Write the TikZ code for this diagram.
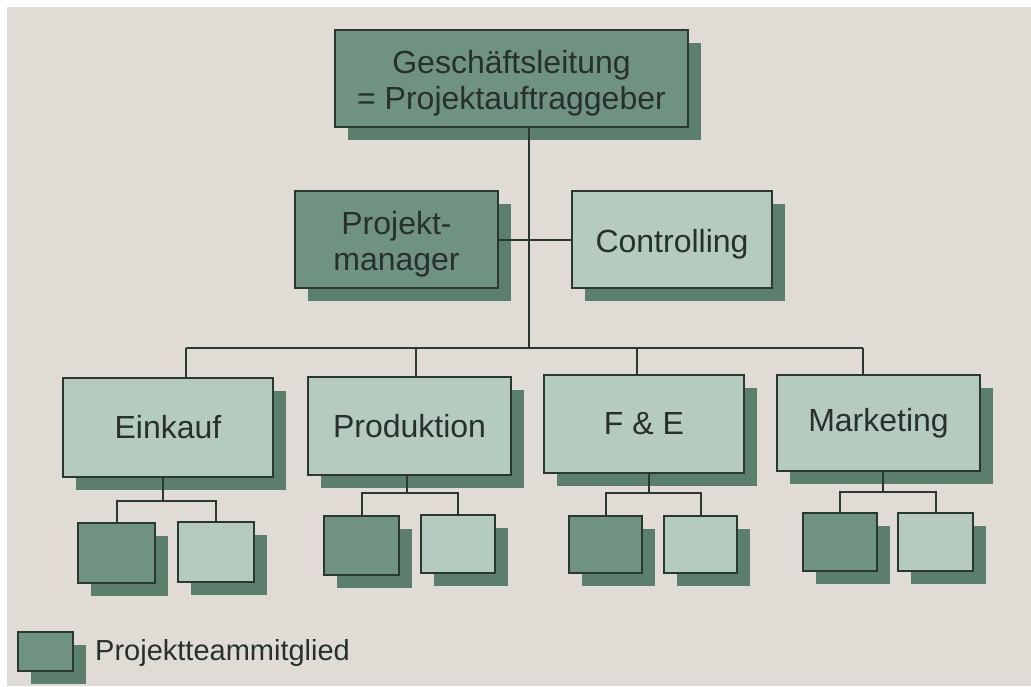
\documentclass[tikz,border=0pt]{standalone}
\usepackage{fontspec}
\setmainfont{Liberation Sans}
\usetikzlibrary{shadows}
\definecolor{pagec}{HTML}{E0DBD5}
\definecolor{darkc}{HTML}{6F9282}
\definecolor{lightc}{HTML}{B6CBC0}
\definecolor{shadc}{HTML}{5B7E6D}
\definecolor{linec}{HTML}{2B3832}
\definecolor{textc}{HTML}{27302C}
\newcommand{\dn}{\rule{0pt}{33pt}}
\begin{document}
\begin{tikzpicture}[x=1pt,y=-1pt,
  box/.style={draw=linec, line width=1.8pt, inner sep=0pt, align=center, text=textc,
    font=\fontsize{32}{36}\selectfont,
    drop shadow={shadow xshift=13pt, shadow yshift=-13pt, opacity=1, fill=shadc, draw=none}},
  dark/.style={box, fill=darkc},
  light/.style={box, fill=lightc},
  conn/.style={draw=linec, line width=2pt}]
\useasboundingbox (0,0) rectangle (1031,686);
\fill[white] (0,0) rectangle (1031,686);
\fill[pagec] (7,7) rectangle (1031,686);

% top levels
\node[dark, minimum width=353pt, minimum height=97pt] (top) at (511.5,78.5) {\dn Geschäftsleitung\\= Projektauftraggeber};
\node[dark, minimum width=203pt, minimum height=97pt] (pm) at (396.5,239.5) {\dn Projekt-\\manager};
\node[light, minimum width=200pt, minimum height=97pt] (ctrl) at (672,239.5) {\dn Controlling};

% departments
\node[light, minimum width=210pt, minimum height=99pt] (ein) at (168,427.5) {Einkauf};
\node[light, minimum width=203pt, minimum height=98pt] (pro) at (409.5,426) {Produktion};
\node[light, minimum width=200pt, minimum height=98pt] (fe) at (644,424) {F \& E};
\node[light, minimum width=203pt, minimum height=96pt] (mar) at (878.5,423) {Marketing};

% sub boxes
\node[dark, minimum width=77pt, minimum height=60pt] (e1) at (116.5,553) {};
\node[light, minimum width=76pt, minimum height=60pt] (e2) at (216,552) {};
\node[dark, minimum width=75pt, minimum height=59pt] (p1) at (361.5,545.5) {};
\node[light, minimum width=74pt, minimum height=58pt] (p2) at (458,544) {};
\node[dark, minimum width=73pt, minimum height=57pt] (f1) at (605.5,544.5) {};
\node[light, minimum width=73pt, minimum height=57pt] (f2) at (700.5,544.5) {};
\node[dark, minimum width=74pt, minimum height=58pt] (m1) at (840,542) {};
\node[light, minimum width=75pt, minimum height=58pt] (m2) at (935.5,542) {};

% legend
\node[dark, minimum width=55pt, minimum height=39pt] (leg) at (45.5,651.5) {};
\node[anchor=west, inner sep=0pt, text=textc, font=\fontsize{29}{34}\selectfont] (legtext) at (95,653) {Projektteammitglied};

% main connectors
\coordinate (bus) at (529,348);
\coordinate (bE) at (186,348);
\coordinate (bP) at (416,348);
\coordinate (bF) at (637,348);
\coordinate (bM) at (863,348);
\draw[conn] (top.south -| bus) -- (bus);
\draw[conn] (pm.east) -- (ctrl.west);
\draw[conn] (bE) -- (bM);
\draw[conn] (bE) -- (bE |- ein.north);
\draw[conn] (bP) -- (bP |- pro.north);
\draw[conn] (bF) -- (bF |- fe.north);
\draw[conn] (bM) -- (bM |- mar.north);

% sub connectors
\coordinate (sE) at (163,501);
\coordinate (sP) at (407,493);
\coordinate (sF) at (649,493);
\coordinate (sM) at (883,492);
\draw[conn] (sE |- ein.south) -- (sE);
\draw[conn] (e1.north) -- (e1.north |- sE) -- (e2.north |- sE) -- (e2.north);
\draw[conn] (sP |- pro.south) -- (sP);
\draw[conn] (p1.north) -- (p1.north |- sP) -- (p2.north |- sP) -- (p2.north);
\draw[conn] (sF |- fe.south) -- (sF);
\draw[conn] (f1.north) -- (f1.north |- sF) -- (f2.north |- sF) -- (f2.north);
\draw[conn] (sM |- mar.south) -- (sM);
\draw[conn] (m1.north) -- (m1.north |- sM) -- (m2.north |- sM) -- (m2.north);
\end{tikzpicture}
\end{document}
